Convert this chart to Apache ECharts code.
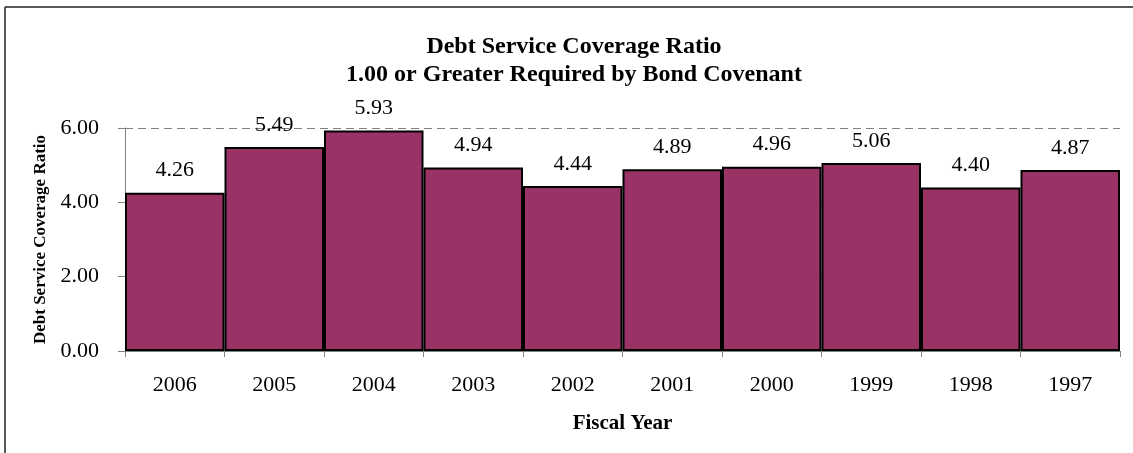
<!DOCTYPE html>
<html>
<head>
<meta charset="utf-8">
<script src="https://cdn.jsdelivr.net/npm/echarts@6/dist/echarts.min.js"></script>
<style>
html,body{margin:0;padding:0;background:#fff;}
#chart{width:1133px;height:453px;}
</style>
</head>
<body>
<div id="chart"></div>
<script>
const years = ['2006','2005','2004','2003','2002','2001','2000','1999','1998','1997'];
const ratios = [4.26, 5.49, 5.93, 4.94, 4.44, 4.89, 4.96, 5.06, 4.40, 4.87];
const yTicks = [0, 2, 4, 6];
const titleLines = ['Debt Service Coverage Ratio', '1.00 or Greater Required by Bond Covenant'];
const xName = 'Fiscal Year';
const yName = 'Debt Service Coverage Ratio';

const serif = '"Liberation Serif", "Times New Roman", serif';
const chart = echarts.init(document.getElementById('chart'));
chart.setOption({
  animation: false,
  backgroundColor: '#fff',
  title: {
    text: titleLines.join('\n'),
    left: 569, top: 28, textAlign: 'center',
    textStyle: {fontFamily: serif, fontWeight: 'bold', fontSize: 24, lineHeight: 28, color: '#000'}
  },
  graphic: [
    {type: 'line', shape: {x1: 5, y1: 7, x2: 1133, y2: 7}, style: {stroke: '#222', lineWidth: 1.5}},
    {type: 'line', shape: {x1: 5, y1: 7, x2: 5, y2: 453}, style: {stroke: '#222', lineWidth: 1.5}}
  ],
  grid: {left: 125, right: 13, top: 128, bottom: 102, containLabel: false},
  xAxis: {
    type: 'category',
    data: years,
    boundaryGap: true,
    name: xName,
    nameLocation: 'middle',
    nameGap: 62,
    nameTextStyle: {fontFamily: serif, fontWeight: 'bold', fontSize: 21, color: '#000'},
    axisLine: {lineStyle: {color: '#808080', width: 1}},
    axisTick: {show: true, length: 6, lineStyle: {color: '#808080'}},
    axisLabel: {fontFamily: serif, fontSize: 22, color: '#000', margin: 23}
  },
  yAxis: {
    type: 'value',
    min: yTicks[0], max: yTicks[yTicks.length - 1], interval: 2,
    name: yName,
    nameLocation: 'middle',
    nameGap: 72,
    nameTextStyle: {fontFamily: serif, fontWeight: 'bold', fontSize: 17, color: '#000'},
    axisLine: {show: true, lineStyle: {color: '#808080', width: 1}},
    axisTick: {show: true, length: 7, lineStyle: {color: '#808080'}},
    axisLabel: {fontFamily: serif, fontSize: 22, color: '#000', margin: 26,
      formatter: v => v.toFixed(2)},
    splitLine: {show: true, lineStyle: {color: '#808080', type: [8, 5], width: 1}}
  },
  series: [{
    type: 'bar',
    data: ratios,
    barCategoryGap: '0%',
    itemStyle: {color: '#993366', borderColor: '#000', borderWidth: 2},
    label: {show: true, position: 'top', distance: 11, fontFamily: serif, fontSize: 22, color: '#000',
      formatter: p => p.value.toFixed(2)}
  }]
});
</script>
</body>
</html>
